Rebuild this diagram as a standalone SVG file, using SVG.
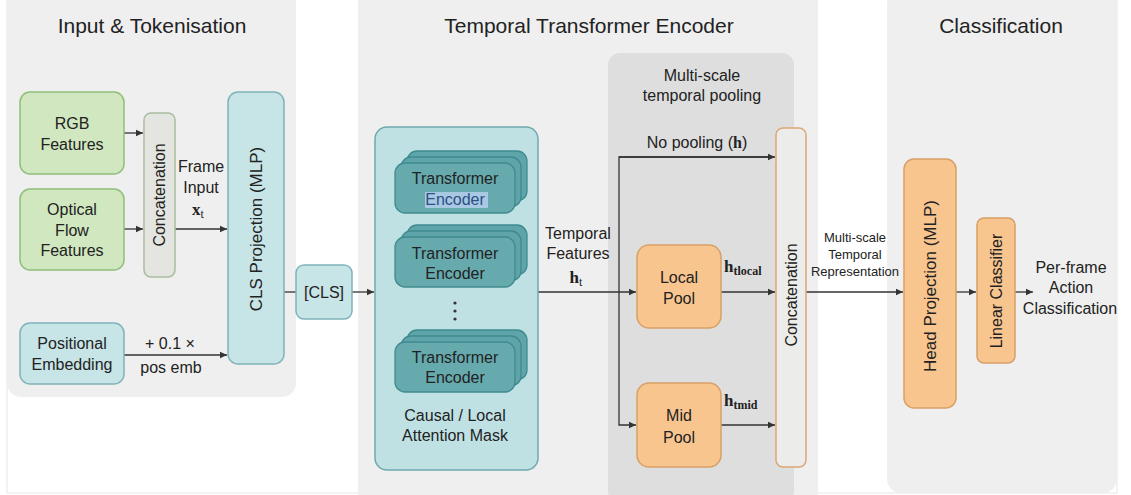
<svg xmlns="http://www.w3.org/2000/svg" width="1131" height="495" viewBox="0 0 1131 495">
<style>
text{font-family:"Liberation Sans",Arial,sans-serif;fill:#222;text-anchor:middle}
.t{font-size:21px}
.l{font-size:16px}
.s{font-size:13px}
.m{font-family:"Liberation Serif","DejaVu Serif",serif;font-weight:bold;font-size:17px}
.panel{fill:#efefef}
.green{fill:#d0e7bf;stroke:#8fbf78;stroke-width:1.5}
.teal{fill:#c7e4e6;stroke:#7fb4b9;stroke-width:1.5}
.orange{fill:#f9c58f;stroke:#d7a066;stroke-width:1.5}
.card{fill:#66aaae;stroke:#3f8a8e;stroke-width:1.3}
.cardb{fill:#5ea4a8;stroke:#3f8a8e;stroke-width:1.3}
.ln{fill:none;stroke:#333;stroke-width:1.3}
</style>
<defs>
<marker id="ah" markerWidth="8" markerHeight="8" refX="7" refY="4" orient="auto" markerUnits="userSpaceOnUse">
<path d="M0,0.8 L7,4 L0,7.2 Z" fill="#333"/>
</marker>
</defs>
<rect x="7" y="-5" width="1110" height="498" fill="#fff" stroke="#e6e6e6"/>
<g id="panel-input">
<rect class="panel" x="7" y="-10" width="289" height="407" rx="14"/>
<text class="t" x="152" y="33">Input &amp; Tokenisation</text>
</g>
<g id="panel-encoder">
<rect class="panel" x="358" y="-10" width="460" height="520" rx="14"/>
<text class="t" x="589" y="33">Temporal Transformer Encoder</text>
</g>
<g id="panel-class">
<rect class="panel" x="887" y="-10" width="230" height="503" rx="14"/>
<text class="t" x="1001" y="33">Classification</text>
</g>
<g id="panel-pooling">
<rect x="608" y="53" width="186" height="450" rx="12" fill="#dedede"/>
<text class="l" x="702" y="81">Multi-scale</text>
<text class="l" x="702" y="101">temporal pooling</text>
</g>
<g id="connectors">
<line class="ln" x1="124" y1="133" x2="143" y2="133" marker-end="url(#ah)"/>
<line class="ln" x1="124" y1="229" x2="143" y2="229" marker-end="url(#ah)"/>
<line class="ln" x1="175" y1="229" x2="227" y2="229" marker-end="url(#ah)"/>
<line class="ln" x1="124" y1="355" x2="227" y2="355" marker-end="url(#ah)"/>
<line class="ln" x1="284" y1="292" x2="296" y2="292"/>
<line class="ln" x1="352" y1="292" x2="374" y2="292" marker-end="url(#ah)"/>
<line class="ln" x1="538" y1="292" x2="636" y2="292" marker-end="url(#ah)"/>
<polyline class="ln" points="773,157 619,157 619,425 636,425" marker-end="url(#ah)"/>
<line class="ln" x1="619" y1="157" x2="775" y2="157" marker-end="url(#ah)"/>
<line class="ln" x1="721" y1="292" x2="775" y2="292" marker-end="url(#ah)"/>
<line class="ln" x1="721" y1="425" x2="775" y2="425" marker-end="url(#ah)"/>
<line class="ln" x1="806" y1="292" x2="903" y2="292" marker-end="url(#ah)"/>
<line class="ln" x1="956" y1="292" x2="976" y2="292" marker-end="url(#ah)"/>
<line class="ln" x1="1015" y1="292" x2="1033" y2="292" marker-end="url(#ah)"/>
<text class="l" x="201" y="172">Frame</text>
<text class="l" x="201" y="193">Input</text>
<text class="m" x="198" y="215">x<tspan font-size="12" font-weight="normal" dy="3">t</tspan></text>
<text class="l" x="170" y="349">+ 0.1 ×</text>
<text class="l" x="171" y="373">pos emb</text>
<text class="l" x="578" y="239">Temporal</text>
<text class="l" x="578" y="259">Features</text>
<text class="m" x="576" y="283">h<tspan font-size="12" font-weight="normal" dy="3">t</tspan></text>
<text class="l" x="697" y="148">No pooling (<tspan class="m" style="font-size:16px">h</tspan>)</text>
<text class="m" x="724" y="272" style="text-anchor:start">h<tspan font-size="12" dy="3">tlocal</tspan></text>
<text class="m" x="724" y="406" style="text-anchor:start">h<tspan font-size="12" dy="3">tmid</tspan></text>
<text class="s" x="855" y="242">Multi-scale</text>
<text class="s" x="855" y="259">Temporal</text>
<text class="s" x="855" y="276">Representation</text>
<text class="l" x="1071" y="273">Per-frame</text>
<text class="l" x="1071" y="293">Action</text>
<text class="l" x="1070" y="314">Classification</text>
</g>
<g id="rgb">
<rect class="green" x="20" y="92" width="104" height="82" rx="10"/>
<text class="l" x="72" y="129">RGB</text>
<text class="l" x="72" y="150">Features</text>
</g>
<g id="flow">
<rect class="green" x="20" y="189" width="104" height="81" rx="10"/>
<text class="l" x="72" y="215">Optical</text>
<text class="l" x="72" y="236">Flow</text>
<text class="l" x="72" y="256">Features</text>
</g>
<g id="concat1">
<rect x="144" y="113" width="31" height="164" rx="7" fill="#e4e5e0" stroke="#a9bd9f" stroke-width="1.5"/>
<text class="l" transform="translate(165,195) rotate(-90)">Concatenation</text>
</g>
<g id="posemb">
<rect class="teal" x="20" y="323" width="104" height="61" rx="10"/>
<text class="l" x="72" y="349">Positional</text>
<text class="l" x="72" y="370">Embedding</text>
</g>
<g id="clsproj">
<rect class="teal" x="228" y="92" width="56" height="272" rx="10"/>
<text class="l" style="font-size:17px" transform="translate(262,229) rotate(-90)">CLS Projection (MLP)</text>
</g>
<g id="cls">
<rect class="teal" x="296" y="265" width="56" height="54" rx="8"/>
<text class="l" x="324" y="298">[CLS]</text>
</g>
<g id="encoder">
<rect x="375" y="127" width="163" height="343" rx="12" fill="#c0e1e3" stroke="#6fa9ae" stroke-width="1.5"/>
<rect class="cardb" x="407" y="151" width="120" height="50" rx="10"/>
<rect class="cardb" x="401" y="157" width="120" height="50" rx="10"/>
<rect class="card" x="395" y="163" width="120" height="50" rx="10"/>
<text class="l" x="455" y="184">Transformer</text>
<rect x="425" y="192" width="63" height="16" fill="#a9c8e2"/>
<text class="l" x="455" y="205" style="fill:#2b4f86">Encoder</text>
<rect class="cardb" x="407" y="225" width="120" height="50" rx="10"/>
<rect class="cardb" x="401" y="231" width="120" height="50" rx="10"/>
<rect class="card" x="395" y="237" width="120" height="50" rx="10"/>
<text class="l" x="455" y="259">Transformer</text>
<text class="l" x="455" y="279">Encoder</text>
<circle cx="455" cy="303" r="1.6" fill="#333"/>
<circle cx="455" cy="311" r="1.6" fill="#333"/>
<circle cx="455" cy="319" r="1.6" fill="#333"/>
<rect class="cardb" x="407" y="330" width="120" height="50" rx="10"/>
<rect class="cardb" x="401" y="336" width="120" height="50" rx="10"/>
<rect class="card" x="395" y="342" width="120" height="50" rx="10"/>
<text class="l" x="455" y="363">Transformer</text>
<text class="l" x="455" y="383">Encoder</text>
<text class="l" x="455" y="421">Causal / Local</text>
<text class="l" x="455" y="441">Attention Mask</text>
</g>
<g id="localpool">
<rect class="orange" x="637" y="245" width="84" height="83" rx="12"/>
<text class="l" x="679" y="283">Local</text>
<text class="l" x="679" y="304">Pool</text>
</g>
<g id="midpool">
<rect class="orange" x="637" y="383" width="84" height="84" rx="12"/>
<text class="l" x="679" y="421">Mid</text>
<text class="l" x="679" y="443">Pool</text>
</g>
<g id="concat2">
<rect x="776" y="128" width="30" height="339" rx="7" fill="#ececea" stroke="#dba876" stroke-width="1.5"/>
<text class="l" transform="translate(797,295) rotate(-90)">Concatenation</text>
</g>
<g id="headproj">
<rect class="orange" x="904" y="159" width="52" height="249" rx="10"/>
<text class="l" style="font-size:17px" transform="translate(936,286) rotate(-90)">Head Projection (MLP)</text>
</g>
<g id="linear">
<rect class="orange" x="977" y="218" width="38" height="145" rx="7"/>
<text class="l" transform="translate(1002,291) rotate(-90)">Linear Classifier</text>
</g>
</svg>
